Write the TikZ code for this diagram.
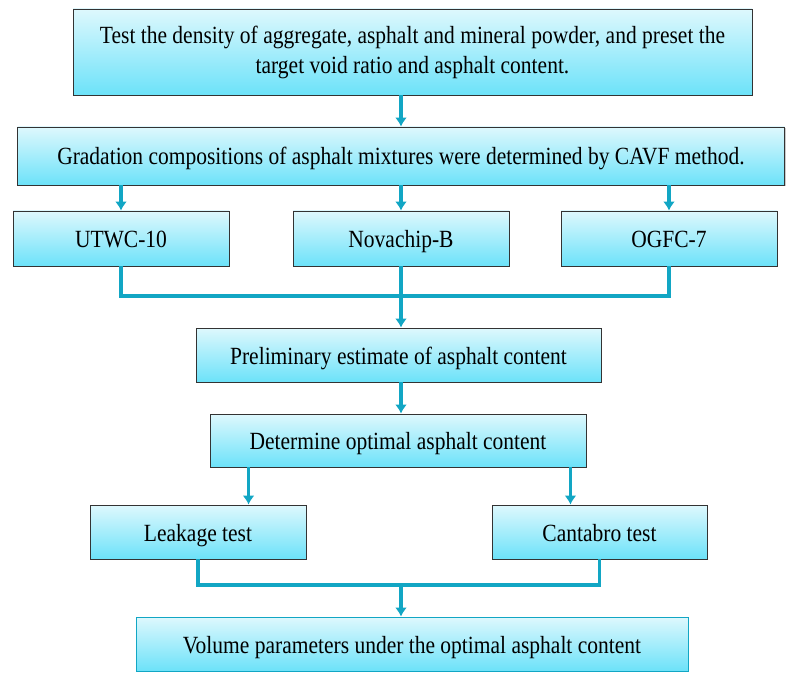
\documentclass[tikz,border=0pt]{standalone}
\usepackage{fontspec}
\setmainfont{Liberation Serif}
\usetikzlibrary{arrows.meta,shadows}
\definecolor{teal1}{RGB}{18,166,196}
\definecolor{boxtop}{RGB}{222,248,253}
\definecolor{boxbot}{RGB}{108,226,249}
\newcommand\vstr[1]{\scalebox{1}[1.15]{#1}}
\tikzset{
  box/.style={draw=black!80, line width=0.9pt, top color=boxtop, bottom color=boxbot,
    inner sep=0pt, align=center, font=\fontsize{21.5}{27}\selectfont,
    drop shadow={shadow xshift=1.2pt, shadow yshift=-1.2pt, opacity=0.35, fill=black!60}},
  onebox/.style={box, text height=21pt, text depth=3pt},
  lastbox/.style={onebox, draw=teal1},
  conn/.style={draw=teal1, line width=3.4pt},
  arr/.style={conn, -{Latex[length=9pt,width=12pt]}},
}
\begin{document}
\begin{tikzpicture}[x=1pt,y=-1pt]
\useasboundingbox (0,0) rectangle (796,674);
\node[box, minimum width=679pt, minimum height=86pt] (test) at (412.5,52)
  {\vstr{\begin{tabular}{@{}c@{}}Test the density of aggregate, asphalt and mineral powder, and preset the\\[-1pt]target void ratio and asphalt content.\end{tabular}}};
\node[onebox, minimum width=767pt, minimum height=58pt] (grad) at (401,156)
  {\vstr{Gradation compositions of asphalt mixtures were determined by CAVF method.}};
\node[onebox, minimum width=216pt, minimum height=55pt] (utwc) at (121,238.5) {\vstr{UTWC-10}};
\node[onebox, minimum width=216pt, minimum height=55pt] (nova) at (401,238.5) {\vstr{Novachip-B}};
\node[onebox, minimum width=216pt, minimum height=55pt] (ogfc) at (669,238.5) {\vstr{OGFC-7}};
\node[onebox, minimum width=405pt, minimum height=54pt] (prel) at (398.5,355) {\vstr{Preliminary estimate of asphalt content}};
\node[onebox, minimum width=376pt, minimum height=53pt] (det) at (398,440.5) {\vstr{Determine optimal asphalt content}};
\node[onebox, minimum width=216pt, minimum height=54pt] (leak) at (198,532) {\vstr{Leakage test}};
\node[onebox, minimum width=215pt, minimum height=54pt] (cant) at (599.5,532) {\vstr{Cantabro test}};
\node[lastbox, minimum width=552pt, minimum height=54pt] (vol) at (412,644) {\vstr{Volume parameters under the optimal asphalt content}};
\coordinate (j1) at (401,296);
\coordinate (j2) at (401,585);
% connectors
\draw[arr] (test.south -| grad.north) -- (grad.north);
\draw[arr] (utwc.north |- grad.south) -- (utwc.north);
\draw[arr] (nova.north |- grad.south) -- (nova.north);
\draw[arr] (ogfc.north |- grad.south) -- (ogfc.north);
\draw[conn] (utwc.south) |- (j1) -| (ogfc.south);
\draw[arr] (nova.south) -- (nova.south |- prel.north);
\draw[arr] (nova.south |- prel.south) -- (nova.south |- det.north);
\draw[arr] ([xshift=39pt]det.south west) -- ([xshift=39pt]det.south west |- leak.north);
\draw[arr] ([xshift=-16pt]det.south east) -- ([xshift=-16pt]det.south east |- cant.north);
\draw[conn] (leak.south) |- (j2) -| (cant.south);
\draw[arr] (j2) -- (j2 |- vol.north);
\end{tikzpicture}
\end{document}
